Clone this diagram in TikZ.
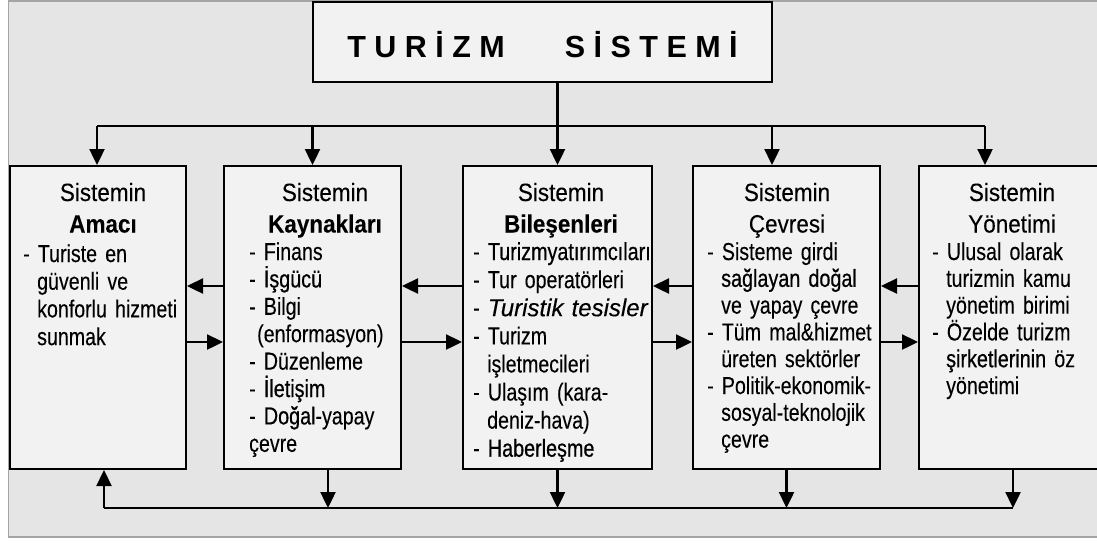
\documentclass[tikz,border=0pt]{standalone}
\usepackage{fontspec}
\setmainfont{Liberation Sans}
\newfontfamily\headfont{Liberation Sans}[FakeStretch=0.9,FakeBold=0.08]
\newfontfamily\narrowfont{Liberation Sans}[FakeStretch=0.8,FakeBold=0.1]
\newfontfamily\darkfont{Liberation Sans}[FakeStretch=0.805,FakeBold=0.6,Scale=1.002]
\newfontfamily\tesisfont{Liberation Sans}[FakeStretch=0.98,FakeBold=0.25]
\usetikzlibrary{arrows.meta}

\definecolor{bgfill}{RGB}{229,229,229}
\definecolor{boxfill}{RGB}{242,242,242}
\definecolor{framegray}{RGB}{165,165,165}

\newcommand{\dk}[1]{{\darkfont #1}}
\newcommand{\ind}{\hspace*{14pt}}

\tikzset{
  sysbox/.style={rectangle,draw,line width=2pt,fill=boxfill,minimum height=303pt,inner sep=0pt},
  heading/.style={anchor=base,align=center,inner sep=0pt,text width=180pt,
                  font=\headfont\fontsize{25}{31.5}\selectfont},
  items/.style={anchor=base west,align=left,inner sep=0pt,text width=200pt,
                font=\narrowfont\fontsize{24.5}{27.5}\selectfont},
  flow/.style={->,line width=2.4pt},
  bus/.style={line width=1.3pt}
}

\begin{document}
\begin{tikzpicture}[x=1pt,y=-1pt,>={Triangle[length=16pt,width=15pt]}]
  \useasboundingbox (0,0) rectangle (1097,542);
  \clip (0,0) rectangle (1097,542);
  \draw[framegray,fill=bgfill,line width=1.5pt] (8.5,0.75) rectangle (1110,537);

  % baslik
  \node[rectangle,draw,line width=2pt,fill=boxfill,minimum width=459pt,minimum height=80pt,
        text height=30pt,text depth=0pt,font=\bfseries\fontsize{30.5}{30}\selectfont] (T)
        at (542.5,42) {T U R İ Z M\hspace{60pt}S İ S T E M İ};

  % alt sistemler
  \node[sysbox,minimum width=176pt] (A) at (98,317.5) {};
  \node[sysbox,minimum width=177pt] (B) at (312.5,317.5) {};
  \node[sysbox,minimum width=189pt] (C) at (557.5,317.5) {};
  \node[sysbox,minimum width=187pt] (D) at (786.5,317.5) {};
  \node[sysbox,minimum width=188pt] (E) at (1013,317.5) {};

  \node[heading] (Ah) at (103,201) {Sistemin\\\textbf{Amacı}};
  \node[heading] (Bh) at (325,201) {Sistemin\\\textbf{Kaynakları}};
  \node[heading] (Ch) at (561,201) {Sistemin\\\textbf{Bileşenleri}};
  \node[heading] (Dh) at (787,201) {Sistemin\\Çevresi};
  \node[heading] (Eh) at (1012,201) {Sistemin\\Yönetimi};

  \node[items,font=\narrowfont\fontsize{24.5}{27.7}\selectfont] (Ai) at (23,262)
    {- Turiste en\\\ind güvenli ve\\\ind konforlu hizmeti\\\ind sunmak};
  \node[items,font=\narrowfont\fontsize{24.5}{27.4}\selectfont] (Bi) at (249,260)
    {- Finans\\- \dk{İşgücü}\\- Bilgi\\\hspace*{8pt}(enformasyon)\\- Düzenleme\\
     - \dk{İletişim}\\- \dk{Doğal}-yapay\\çevre};
  \node[items,font=\narrowfont\fontsize{24.5}{28.1}\selectfont] (Ci) at (473,260)
    {- \dk{Turizmyatırımcıları}\\- Tur operatörleri\\- {\tesisfont\itshape Turistik tesisler}\\
     - Turizm\\\ind işletmecileri\\- Ulaşım (kara-\\\ind deniz-hava)\\- \dk{Haberleşme}};
  \node[items,font=\narrowfont\fontsize{24.5}{26.8}\selectfont] (Di) at (707,260)
    {- Sisteme girdi\\\ind \dk{sağlayan doğal}\\\ind ve yapay çevre\\- Tüm mal\&hizmet\\
     \ind üreten sektörler\\- Politik-ekonomik-\\\ind sosyal-teknolojik\\\ind çevre};
  \node[items,font=\narrowfont\fontsize{24.5}{26.8}\selectfont] (Ei) at (932,260)
    {- Ulusal olarak\\\ind turizmin kamu\\\ind yönetim birimi\\- Özelde turizm\\
     \ind \dk{şirketlerinin} öz\\\ind yönetimi};

  % ust dagitim
  \coordinate (hubL) at (97,126);
  \coordinate (hubD) at (772,126);
  \coordinate (hubR) at (985,126);
  \draw[flow] (T.south -| C.north) -- (C.north);
  \draw[bus] (hubL) -- (hubR);
  \draw[flow] (hubL) -- (hubL |- A.north);
  \draw[flow] (B.north |- hubL) -- (B.north);
  \draw[flow] (hubD) -- (hubD |- D.north);
  \draw[flow] (hubR) -- (hubR |- E.north);

  % alt geri besleme
  \coordinate (busL) at (104,508);
  \coordinate (busB) at (328,508);
  \coordinate (busR) at (1013,508);
  \draw[bus] (busL) -- (busR);
  \draw[flow] (busL) -- (busL |- A.south);
  \draw[flow] (busB |- B.south) -- (busB);
  \foreach \n in {C,D,E}
    \draw[flow] (\n.south) -- (\n.south |- busL);

  % yan oklar
  \coordinate (back) at (0,286);
  \coordinate (fwd) at (0,342);
  \foreach \l/\r in {A/B,B/C,C/D,D/E}{
    \draw[flow] (\r.west |- back) -- (\l.east |- back);
    \draw[flow] (\l.east |- fwd) -- (\r.west |- fwd);
  }
\end{tikzpicture}
\end{document}
